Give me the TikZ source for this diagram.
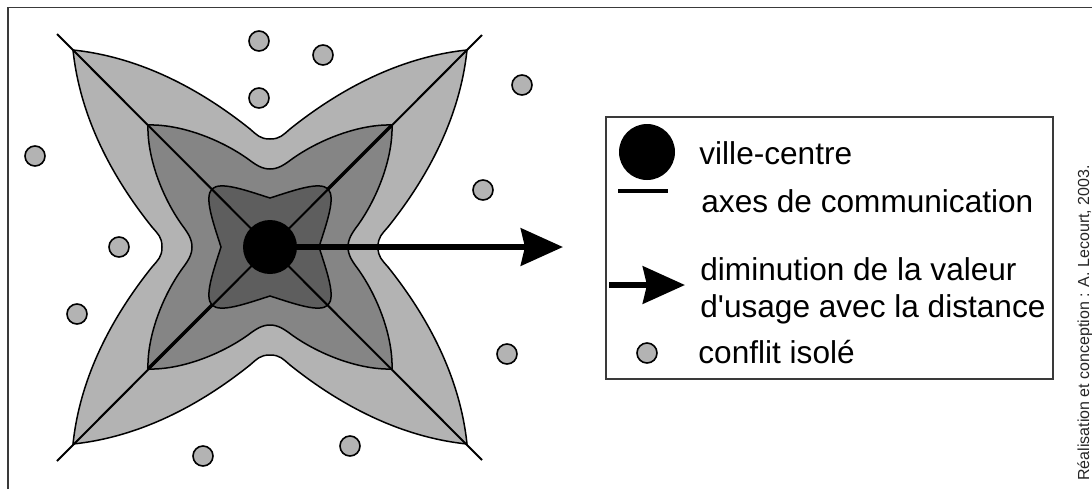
\documentclass[tikz,border=0pt]{standalone}
\usepackage{fontspec}
\setmainfont{Liberation Sans}
\definecolor{ZoneCentre}{HTML}{5E5E5E}
\definecolor{ZoneMid}{HTML}{858585}
\definecolor{ZoneOut}{HTML}{B3B3B3}
\definecolor{FrameGray}{HTML}{3A3A3A}
\usetikzlibrary{arrows.meta,positioning}
\tikzset{
  zone/.style={draw=black, line width=0.75pt},
  axe/.style={line width=1pt, black},
  villenode/.style={circle, fill=black, inner sep=0pt, minimum size=27pt},
  conflit/.style={circle, draw=black, fill=ZoneOut, line width=0.8pt, inner sep=0pt, minimum size=10pt},
  flowarr/.style={-{Stealth[length=21pt, width=18.5pt, inset=2pt]}, line width=3.25pt, black},
  legtext/.style={font=\fontsize{15.8pt}{18.5pt}\selectfont, anchor=base west, inner sep=0pt},
  legbox/.style={draw=FrameGray, line width=0.75pt, inner sep=0pt, minimum width=223.5pt, minimum height=131pt},
  credit/.style={font=\fontsize{8pt}{9.6pt}\selectfont, text=black!85, inner sep=0pt, rotate=90, anchor=base west}
}

\begin{document}
\begin{tikzpicture}[x=0.5pt, y=-0.5pt]
\useasboundingbox (0,0) rectangle (1092,489);

% zones around the city
\begin{scope}[shift={(270,247)}]
\path[zone, fill=ZoneOut] (0,-108)
  \foreach \a in {0,90,180,270}{
    .. controls ([rotate=\a]-10,-108) and ([rotate=\a]-13,-112) .. ([rotate=\a]-20,-118)
    .. controls ([rotate=\a]-70,-158) and ([rotate=\a]-130,-190) .. ([rotate=\a]-197,-197)
    .. controls ([rotate=\a]-190,-130) and ([rotate=\a]-158,-70) .. ([rotate=\a]-118,-20)
    .. controls ([rotate=\a]-112,-13) and ([rotate=\a]-108,-10) .. ([rotate=\a]-108,0)
  } -- cycle;
\path[zone, fill=ZoneMid] (0,-78)
  \foreach \a in {0,90,180,270}{
    .. controls ([rotate=\a]-8,-78) and ([rotate=\a]-14,-82) .. ([rotate=\a]-22,-88)
    .. controls ([rotate=\a]-50,-108) and ([rotate=\a]-90,-123) .. ([rotate=\a]-122,-122)
    .. controls ([rotate=\a]-123,-90) and ([rotate=\a]-108,-50) .. ([rotate=\a]-88,-22)
    .. controls ([rotate=\a]-82,-14) and ([rotate=\a]-78,-8) .. ([rotate=\a]-78,0)
  } -- cycle;
\path[zone, fill=ZoneCentre] (0,-49)
  \foreach \a in {0,90,180,270}{
    .. controls ([rotate=\a]-25,-57) and ([rotate=\a]-50,-66) .. ([rotate=\a]-58,-58)
    .. controls ([rotate=\a]-66,-50) and ([rotate=\a]-57,-25) .. ([rotate=\a]-49,0)
  } -- cycle;

% axes
\coordinate (axNW) at (-213,-213);
\coordinate (axSE) at (212,213);
\coordinate (axNE) at (212,-212);
\coordinate (axSW) at (-213,214);
\coordinate (midNE) at (122,-122);
\coordinate (inNE) at (58,-58);
\coordinate (midSW) at (-122,122);
\coordinate (inSW) at (-58,58);
\draw[axe] (axNW) -- (axSE);
\draw[axe] (axNE) -- (axSW);
\draw[axe, line width=1.7pt] (midNE) -- (inNE);
\draw[axe, line width=1.7pt] (midSW) -- (inSW);
\end{scope}

\node[villenode] (centre) at (270,247) {};
\coordinate (flowtip) at (563,247);
\draw[flowarr] (centre.center) -- (flowtip);

% isolated conflicts
\foreach \px/\py [count=\i] in {259/41, 323/55, 259/98, 522/85, 35/156, 483/190,
    119/247, 77/314, 507/354, 350/446, 203/456}
  \node[conflit] (conf\i) at (\px,\py) {};

% legend
\node[legbox] (legende) at (829.5,248) {};
\node[villenode, minimum size=28pt] (legville) at (647,152) {};
\node[legtext] (tville) at (699,164.5) {ville-centre};
\coordinate (legaxeA) at (618,191);
\coordinate (legaxeB) at (668,191);
\draw[line width=2.25pt] (legaxeA) -- (legaxeB);
\node[legtext] (taxe) at (701,212) {axes de communication};
\coordinate (legflowA) at (609,285);
\coordinate (legflowB) at (685,285);
\draw[flowarr] (legflowA) -- (legflowB);
\node[legtext] (tflow) at (700,280) {diminution de la valeur};
\node[legtext] (tflowbis) at (700,317) {d\textquotesingle usage avec la distance};
\node[conflit] (legconflit) at (647,353) {};
\node[legtext] (tconflit) at (698,363) {conflit isolé};

\node[credit] (auteur) at (1089,481) {Réalisation et conception : A. Lecourt, 2003.};

% frame
\coordinate (frameBL) at (8,489);
\coordinate (frameTR) at (1092,7.5);
\draw[FrameGray, line width=0.75pt] (frameBL) |- (frameTR);
\end{tikzpicture}
\end{document}
